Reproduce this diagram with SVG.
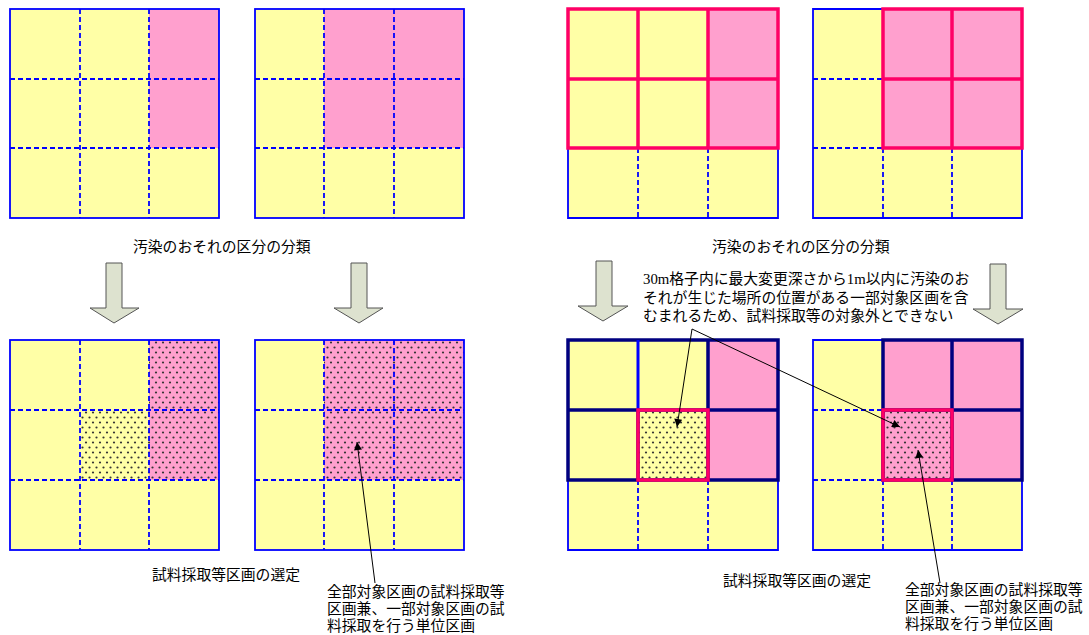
<svg xmlns="http://www.w3.org/2000/svg" width="1089" height="635" viewBox="0 0 1089 635">
<defs>
<pattern id="dots" width="7" height="10" patternUnits="userSpaceOnUse">
<circle cx="2" cy="2.5" r="1.1" fill="#333"/>
<circle cx="5.5" cy="7.5" r="1.1" fill="#333"/>
</pattern>
<marker id="ah" viewBox="0 0 10 10" refX="10" refY="5" markerWidth="10" markerHeight="8" markerUnits="userSpaceOnUse" orient="auto">
<path d="M0,0 L10,5 L0,10 z" fill="#000"/>
</marker>
</defs>
<style>
.y{fill:#FFFFA6}
.p{fill:#FFA0CE}
.d{fill:url(#dots)}
.b{fill:none;stroke:#0000FF;stroke-width:1.8}
.dash{fill:none;stroke:#0000FF;stroke-width:1.8;stroke-dasharray:5 3}
.r{fill:none;stroke:#FF0066;stroke-width:3.5}
.n{fill:none;stroke:#000080;stroke-width:3.5}
.arr{fill:#DDE2CF;stroke:#555;stroke-width:1}
.t{font-family:"Liberation Serif","Noto Sans CJK JP",serif;font-size:14.8px;fill:#000}
.c{fill:none;stroke:#000;stroke-width:1}
</style>

<g id="grid-top-1">
<rect class="y" x="10" y="9" width="209" height="209"/>
<rect class="p" x="149" y="9" width="70" height="139"/>
<path class="dash" d="M80,9V218M149,9V218M10,79H219M10,148H219"/>
<rect class="b" x="10" y="9" width="209" height="209"/>
</g>

<g id="grid-top-2">
<rect class="y" x="255" y="9" width="209" height="209"/>
<rect class="p" x="324" y="9" width="140" height="139"/>
<path class="dash" d="M324,9V218M394,9V218M255,79H464M255,148H464"/>
<rect class="b" x="255" y="9" width="209" height="209"/>
</g>

<g id="grid-top-3">
<rect class="y" x="568" y="9" width="210" height="209"/>
<rect class="p" x="708" y="9" width="70" height="139"/>
<path class="dash" d="M638,148V218M708,148V218"/>
<path class="b" d="M568,148V218H778V148"/>
<path class="r" d="M568,9H778V148H568Z M568,79H778 M638,9V148 M708,9V148"/>
</g>

<g id="grid-top-4">
<rect class="y" x="813" y="9" width="209" height="209"/>
<rect class="p" x="883" y="9" width="139" height="139"/>
<path class="dash" d="M813,79H883M813,148H883M883,148V218M952,148V218"/>
<path class="b" d="M883,9H813V218H1022V148"/>
<path class="r" d="M883,9H1022V148H883Z M883,79H1022 M952,9V148"/>
</g>

<g id="grid-bottom-1">
<rect class="y" x="10" y="340" width="209" height="210"/>
<rect class="p" x="149" y="340" width="70" height="140"/>
<rect class="d" x="149" y="340" width="70" height="140"/>
<rect class="d" x="80" y="410" width="69" height="70"/>
<path class="dash" d="M80,340V550M149,340V550M10,410H219M10,480H219"/>
<rect class="b" x="10" y="340" width="209" height="210"/>
</g>

<g id="grid-bottom-2">
<rect class="y" x="255" y="340" width="209" height="210"/>
<rect class="p" x="324" y="340" width="140" height="140"/>
<rect class="d" x="324" y="340" width="140" height="140"/>
<path class="dash" d="M324,340V550M394,340V550M255,410H464M255,480H464"/>
<rect class="b" x="255" y="340" width="209" height="210"/>
</g>

<g id="grid-bottom-3">
<rect class="y" x="568" y="340" width="210" height="210"/>
<rect class="p" x="708" y="340" width="70" height="140"/>
<rect class="d" x="638" y="410" width="70" height="70"/>
<path class="dash" d="M638,480V550M708,480V550"/>
<path class="b" d="M568,480V550H778V480"/>
<path class="n" d="M568,340H778V480H568Z M568,410H778 M708,340V480"/>
<path d="M638,340V410" fill="none" stroke="#0000FF" stroke-width="3"/>
<path d="M638,410V480" class="n"/>
<rect class="r" x="638" y="410" width="70" height="70"/>
</g>

<g id="grid-bottom-4">
<rect class="y" x="813" y="340" width="209" height="210"/>
<rect class="p" x="883" y="340" width="139" height="140"/>
<rect class="d" x="883" y="410" width="69" height="70"/>
<path class="dash" d="M813,410H883M813,480H883M883,480V550M952,480V550"/>
<path class="b" d="M883,340H813V550H1022V480"/>
<path class="n" d="M883,340H1022V480H883Z M883,410H1022 M952,340V480"/>
<rect class="r" x="883" y="410" width="69" height="70"/>
</g>

<g id="arrow-1"><path class="arr" d="M106,263H122V308H139L114,323L90,308H106Z"/></g>
<g id="arrow-2"><path class="arr" d="M351,263H367V308H383L359,323L334,308H351Z"/></g>
<g id="arrow-3"><path class="arr" d="M596,261H612V306H628L603,321L578,306H596Z"/></g>
<g id="arrow-4"><path class="arr" d="M990,264H1006V309H1023L998,324L973,309H990Z"/></g>

<g id="labels">
<text class="t" x="133" y="252">汚染のおそれの区分の分類</text>
<text class="t" x="712" y="252">汚染のおそれの区分の分類</text>
<text class="t" x="643" y="284">30m格子内に最大変更深さから1m以内に汚染のお</text>
<text class="t" x="643" y="302.5">それが生じた場所の位置がある一部対象区画を含</text>
<text class="t" x="643" y="321">むまれるため、試料採取等の対象外とできない</text>
<text class="t" x="152" y="580">試料採取等区画の選定</text>
<text class="t" x="723" y="586">試料採取等区画の選定</text>
<text class="t" x="327" y="597">全部対象区画の試料採取等</text>
<text class="t" x="327" y="614">区画兼、一部対象区画の試</text>
<text class="t" x="327" y="631">料採取を行う単位区画</text>
<text class="t" x="905" y="595">全部対象区画の試料採取等</text>
<text class="t" x="905" y="612">区画兼、一部対象区画の試</text>
<text class="t" x="905" y="629">料採取を行う単位区画</text>
</g>

<g id="connectors">
<line class="c" x1="375" y1="583" x2="357" y2="442" marker-end="url(#ah)"/>
<line class="c" x1="940" y1="583" x2="918" y2="450" marker-end="url(#ah)"/>
<line class="c" x1="692" y1="329" x2="677" y2="427" marker-end="url(#ah)"/>
<line class="c" x1="692" y1="329" x2="900" y2="427" marker-end="url(#ah)"/>
</g>
</svg>
